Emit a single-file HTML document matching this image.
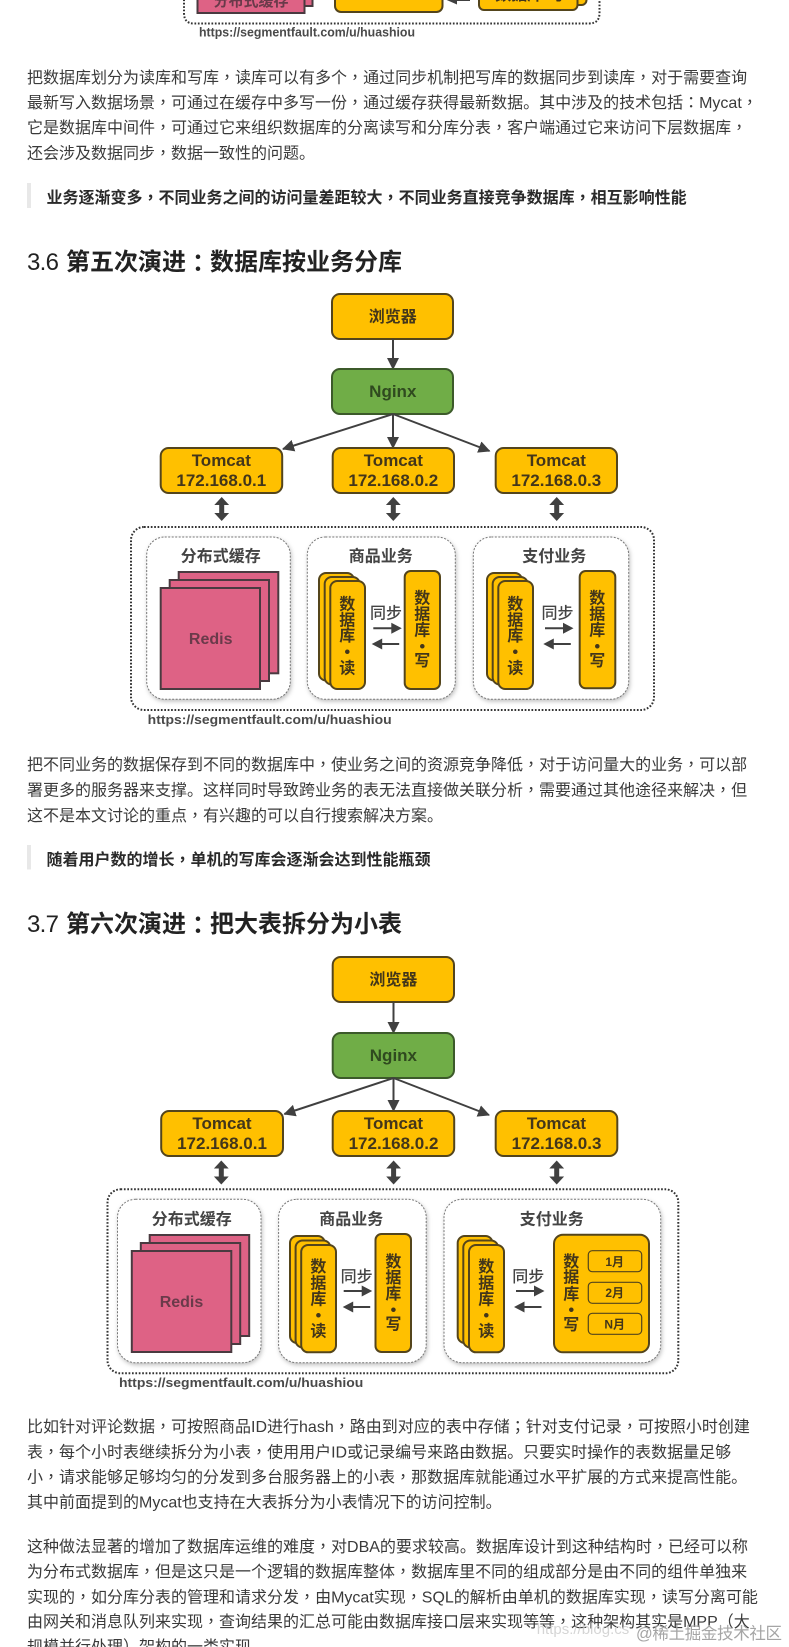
<!DOCTYPE html>
<html><head><meta charset="utf-8">
<style>
html,body{margin:0;padding:0;background:#fff;width:789px;height:1647px;overflow:hidden}
svg{display:block;font-family:"Liberation Sans","Noto Sans CJK SC",sans-serif}
.t{font-size:16px;fill:#3a3a3a}
.q{font-size:16px;font-weight:700;fill:#2a2a2a}
.h{font-size:24px;font-weight:700;fill:#222}
.h .n{font-weight:400;letter-spacing:-.7px}
.p{font-family:"Liberation Sans","Noto Sans CJK TC",sans-serif}
.b{font-weight:700;fill:#43361a;text-anchor:middle;font-size:16px}
.b17{font-weight:700;fill:#43361a;text-anchor:middle;font-size:17px}
.g{font-weight:700;fill:#2f4a1f;text-anchor:middle;font-size:17px}
.ti{font-weight:700;fill:#444;text-anchor:middle;font-size:16px}
.s{fill:#444;text-anchor:middle;font-size:16px;font-weight:500}
.r{font-weight:700;fill:#6a3a4a;text-anchor:middle;font-size:16px}
.u{font-weight:700;fill:#4a4a4a;font-size:13px}
.y{fill:#FFC000;stroke:#54451c;stroke-width:2}
.pk{fill:#DE6285;stroke:#4a3a40;stroke-width:2}
.l{stroke:#404040;stroke-width:2;fill:none;marker-end:url(#a)}
.o{fill:none;stroke:#333;stroke-width:2;stroke-dasharray:1.7 1.7}
.i{fill:#fff;stroke:#777;stroke-width:1;stroke-dasharray:2 1.5;filter:drop-shadow(1px 2px 2px rgba(0,0,0,.25))}
</style></head><body>
<svg width="789" height="1647" viewBox="0 0 789 1647" xmlns="http://www.w3.org/2000/svg">
<defs>
<marker id="a" markerUnits="userSpaceOnUse" markerWidth="13" markerHeight="12" refX="11" refY="6" orient="auto"><path d="M0 0L12 6L0 12z" fill="#404040"/></marker>
<polygon id="da" points="0,0 7.4,8 2.5,8 2.5,16 7.4,16 0,24 -7.4,16 -2.5,16 -2.5,8 -7.4,8" fill="#404040"/>
<polygon id="ar" points="0,-1 18,-1 18,-5.500 28.500,0 18,5.500 18,1 0,1" fill="#404040"/>
<polygon id="al" points="27.500,-1 10.500,-1 10.500,-5.500 0,0 10.500,5.500 10.500,1 27.500,1" fill="#404040"/>
</defs>

<!-- top fragment -->
<path class="o" d="M184 -4V13Q184 23.500 194 23.500H589Q599.500 23.500 599.500 13V-4"/>
<rect class="pk" x="205" y="-20" width="107.500" height="26"/>
<rect class="pk" x="197.500" y="-20" width="107" height="33"/>
<text class="r" x="251" y="6" style="font-size:15px">分布式缓存</text>
<rect class="y" x="335" y="-20" width="107.500" height="32" rx="6"/>
<polygon points="446.700,0 457,4.500 457,1 470,1 470,-1 446.700,-1" fill="#404040"/>
<rect class="y" x="488" y="-20" width="98.500" height="25" rx="5"/>
<rect class="y" x="479" y="-20" width="98.500" height="30" rx="5"/>
<text class="b" x="530" y="0">数据库•写</text>
<text class="u" x="199" y="36.500" textLength="216" lengthAdjust="spacingAndGlyphs">https://segmentfault.com/u/huashiou</text>

<!-- para 1 -->
<text class="t" x="27" y="83">把数据库划分为读库和写库<tspan class="p">，</tspan>读库可以有多个<tspan class="p">，</tspan>通过同步机制把写库的数据同步到读库<tspan class="p">，</tspan>对于需要查询</text>
<text class="t" x="27" y="108">最新写入数据场景<tspan class="p">，</tspan>可通过在缓存中多写一份<tspan class="p">，</tspan>通过缓存获得最新数据。其中涉及的技术包括<tspan class="p">：</tspan>Mycat<tspan class="p">，</tspan></text>
<text class="t" x="27" y="133">它是数据库中间件<tspan class="p">，</tspan>可通过它来组织数据库的分离读写和分库分表<tspan class="p">，</tspan>客户端通过它来访问下层数据库<tspan class="p">，</tspan></text>
<text class="t" x="27" y="158.500">还会涉及数据同步<tspan class="p">，</tspan>数据一致性的问题。</text>
<rect x="27" y="183" width="4" height="25" fill="#e8e8e8"/>
<text class="q" x="46.500" y="203">业务逐渐变多<tspan class="p">，</tspan>不同业务之间的访问量差距较大<tspan class="p">，</tspan>不同业务直接竞争数据库<tspan class="p">，</tspan>相互影响性能</text>
<text class="h" x="27" y="270"><tspan class="n">3.6</tspan><tspan x="66">第五次演进</tspan><tspan class="p" dy="1.500">：</tspan><tspan dy="-1.500">数据库按业务分库</tspan></text>

<!-- diagram 1 -->
<rect class="y" x="332" y="294" width="121" height="45" rx="8"/>
<text class="b" x="392.800" y="322">浏览器</text>
<path class="l" d="M393 339V369"/>
<rect x="332" y="369" width="121" height="45" rx="8" fill="#70AD47" stroke="#3c5a2a" stroke-width="2"/>
<text class="g" x="392.800" y="397">Nginx</text>
<path class="l" d="M393 414L283 449"/>
<path class="l" d="M393 414V448"/>
<path class="l" d="M393 414L489.500 451"/>
<rect class="y" x="160.700" y="448" width="121.500" height="45" rx="8"/>
<text class="b17" x="221.300" y="466">Tomcat</text><text class="b17" x="221.300" y="486">172.168.0.1</text>
<rect class="y" x="332.700" y="448" width="121.300" height="45" rx="8"/>
<text class="b17" x="393.300" y="466">Tomcat</text><text class="b17" x="393.300" y="486">172.168.0.2</text>
<rect class="y" x="495.700" y="448" width="121.300" height="45" rx="8"/>
<text class="b17" x="556.300" y="466">Tomcat</text><text class="b17" x="556.300" y="486">172.168.0.3</text>
<use href="#da" x="221.700" y="497"/><use href="#da" x="393.300" y="497"/><use href="#da" x="556.700" y="497"/>
<rect class="o" x="131" y="527" width="523" height="183" rx="13"/>
<rect class="i" x="146.700" y="537" width="143.600" height="162.300" rx="18"/>
<rect class="i" x="307.300" y="537" width="148" height="162.300" rx="18"/>
<rect class="i" x="473.300" y="537" width="155.400" height="162.300" rx="18"/>
<text class="ti" x="220.800" y="561.500">分布式缓存</text>
<text class="ti" x="380.700" y="561.500">商品业务</text>
<text class="ti" x="554.300" y="561.500">支付业务</text>
<rect class="pk" x="178.700" y="572" width="99.600" height="101.300"/>
<rect class="pk" x="169.700" y="580" width="99.300" height="101"/>
<rect class="pk" x="160.700" y="588" width="99.300" height="101"/>
<text class="r" x="210.700" y="644">Redis</text>
<!-- read 1 -->
<rect class="y" x="319" y="573" width="35" height="107.500" rx="7"/>
<rect class="y" x="324.700" y="577" width="35" height="107.500" rx="7"/>
<rect class="y" x="330.300" y="581" width="34.700" height="108" rx="7"/>
<text class="b" x="347.300" y="609.300">数</text><text class="b" x="347.300" y="625.300">据</text><text class="b" x="347.300" y="641">库</text><text class="b" x="347.300" y="657">•</text><text class="b" x="347.300" y="673.300">读</text>
<rect class="y" x="404.700" y="571" width="35.300" height="118" rx="6"/>
<text class="b" x="422.300" y="603.300">数</text><text class="b" x="422.300" y="619.300">据</text><text class="b" x="422.300" y="635.300">库</text><text class="b" x="422.300" y="651.500">•</text><text class="b" x="422.300" y="666">写</text>
<text class="s" x="386" y="618.300">同步</text>
<use href="#ar" x="373.300" y="628.300"/><use href="#al" x="371.700" y="644"/>
<!-- read 2 -->
<rect class="y" x="487" y="573" width="35" height="107.500" rx="7"/>
<rect class="y" x="492.700" y="577" width="35" height="107.500" rx="7"/>
<rect class="y" x="498.300" y="581" width="34.700" height="108" rx="7"/>
<text class="b" x="515.300" y="609.300">数</text><text class="b" x="515.300" y="625.300">据</text><text class="b" x="515.300" y="641">库</text><text class="b" x="515.300" y="657">•</text><text class="b" x="515.300" y="673.300">读</text>
<rect class="y" x="579.700" y="571" width="35.600" height="117.300" rx="6"/>
<text class="b" x="597.300" y="603.300">数</text><text class="b" x="597.300" y="619.300">据</text><text class="b" x="597.300" y="635.300">库</text><text class="b" x="597.300" y="651.500">•</text><text class="b" x="597.300" y="666">写</text>
<text class="s" x="557.500" y="618.300">同步</text>
<use href="#ar" x="545" y="628.300"/><use href="#al" x="543.300" y="644"/>
<text class="u" x="147.700" y="724" textLength="244" lengthAdjust="spacingAndGlyphs">https://segmentfault.com/u/huashiou</text>

<!-- para 2 -->
<text class="t" x="27" y="770">把不同业务的数据保存到不同的数据库中<tspan class="p">，</tspan>使业务之间的资源竞争降低<tspan class="p">，</tspan>对于访问量大的业务<tspan class="p">，</tspan>可以部</text>
<text class="t" x="27" y="795.500">署更多的服务器来支撑。这样同时导致跨业务的表无法直接做关联分析<tspan class="p">，</tspan>需要通过其他途径来解决<tspan class="p">，</tspan>但</text>
<text class="t" x="27" y="821">这不是本文讨论的重点<tspan class="p">，</tspan>有兴趣的可以自行搜索解决方案。</text>
<rect x="27" y="845" width="4" height="24.500" fill="#e8e8e8"/>
<text class="q" x="46.500" y="865">随着用户数的增长<tspan class="p">，</tspan>单机的写库会逐渐会达到性能瓶颈</text>
<text class="h" x="27" y="932"><tspan class="n">3.7</tspan><tspan x="66">第六次演进</tspan><tspan class="p" dy="1.500">：</tspan><tspan dy="-1.500">把大表拆分为小表</tspan></text>

<!-- diagram 2 -->
<rect class="y" x="332.700" y="957" width="121.300" height="45" rx="8"/>
<text class="b" x="393.400" y="985">浏览器</text>
<path class="l" d="M393.500 1002V1033"/>
<rect x="332.700" y="1033" width="121.300" height="45" rx="8" fill="#70AD47" stroke="#3c5a2a" stroke-width="2"/>
<text class="g" x="393.400" y="1061">Nginx</text>
<path class="l" d="M393.500 1078L284.400 1114"/>
<path class="l" d="M393.500 1078V1111"/>
<path class="l" d="M393.500 1078L489 1115"/>
<rect class="y" x="161.200" y="1111" width="121.800" height="45" rx="8"/>
<text class="b17" x="222" y="1129">Tomcat</text><text class="b17" x="222" y="1149">172.168.0.1</text>
<rect class="y" x="332.700" y="1111" width="121.500" height="45" rx="8"/>
<text class="b17" x="393.500" y="1129">Tomcat</text><text class="b17" x="393.500" y="1149">172.168.0.2</text>
<rect class="y" x="495.700" y="1111" width="121.600" height="45" rx="8"/>
<text class="b17" x="556.500" y="1129">Tomcat</text><text class="b17" x="556.500" y="1149">172.168.0.3</text>
<use href="#da" x="221.300" y="1160.500"/><use href="#da" x="393.600" y="1160.500"/><use href="#da" x="556.700" y="1160.500"/>
<rect class="o" x="107.500" y="1189.300" width="570.800" height="184" rx="13"/>
<rect class="i" x="117.500" y="1199.300" width="143.500" height="163.400" rx="18"/>
<rect class="i" x="278.600" y="1199.300" width="147.600" height="163.400" rx="18"/>
<rect class="i" x="444" y="1199.300" width="216.700" height="163.400" rx="18"/>
<text class="ti" x="191.800" y="1224.300">分布式缓存</text>
<text class="ti" x="351.300" y="1224.300">商品业务</text>
<text class="ti" x="551.700" y="1224.300">支付业务</text>
<rect class="pk" x="149.700" y="1235" width="99.500" height="101"/>
<rect class="pk" x="140.800" y="1243" width="99.400" height="101"/>
<rect class="pk" x="131.800" y="1251" width="99.500" height="101"/>
<text class="r" x="181.500" y="1307">Redis</text>
<rect class="y" x="290" y="1236" width="34.800" height="107" rx="7"/>
<rect class="y" x="295.600" y="1240.500" width="34.800" height="107" rx="7"/>
<rect class="y" x="301.200" y="1245" width="34.800" height="107.300" rx="7"/>
<text class="b" x="318.400" y="1272">数</text><text class="b" x="318.400" y="1288.700">据</text><text class="b" x="318.400" y="1304.300">库</text><text class="b" x="318.400" y="1320.500">•</text><text class="b" x="318.400" y="1336.700">读</text>
<rect class="y" x="375.500" y="1234" width="35.500" height="118" rx="6"/>
<text class="b" x="393.400" y="1267">数</text><text class="b" x="393.400" y="1283">据</text><text class="b" x="393.400" y="1299">库</text><text class="b" x="393.400" y="1315">•</text><text class="b" x="393.400" y="1329.500">写</text>
<text class="s" x="356.600" y="1282">同步</text>
<use href="#ar" x="343.700" y="1291"/><use href="#al" x="342.700" y="1307"/>
<rect class="y" x="457.700" y="1236" width="34.800" height="107" rx="7"/>
<rect class="y" x="463.300" y="1240.500" width="34.800" height="107" rx="7"/>
<rect class="y" x="469" y="1245" width="35" height="107.300" rx="7"/>
<text class="b" x="486.300" y="1272">数</text><text class="b" x="486.300" y="1288.700">据</text><text class="b" x="486.300" y="1304.300">库</text><text class="b" x="486.300" y="1320.500">•</text><text class="b" x="486.300" y="1336.700">读</text>
<rect class="y" x="554" y="1234.700" width="95" height="117.600" rx="9"/>
<text class="b" x="571.300" y="1267">数</text><text class="b" x="571.300" y="1282.700">据</text><text class="b" x="571.300" y="1299.300">库</text><text class="b" x="571.300" y="1315">•</text><text class="b" x="571.300" y="1330">写</text>
<rect x="588.300" y="1250.700" width="53.400" height="21" rx="4" fill="none" stroke="#54451c" stroke-width="1.200"/>
<rect x="588.300" y="1282.300" width="53.400" height="21" rx="4" fill="none" stroke="#54451c" stroke-width="1.200"/>
<rect x="588.300" y="1313.300" width="53.400" height="21" rx="4" fill="none" stroke="#54451c" stroke-width="1.200"/>
<text class="b" style="font-size:12px" x="614.700" y="1266">1月</text>
<text class="b" style="font-size:12px" x="614.700" y="1297">2月</text>
<text class="b" style="font-size:12px" x="614.700" y="1328.500">N月</text>
<text class="s" x="528.300" y="1282">同步</text>
<use href="#ar" x="516" y="1291"/><use href="#al" x="514" y="1307"/>
<text class="u" x="119" y="1387" textLength="244.300" lengthAdjust="spacingAndGlyphs">https://segmentfault.com/u/huashiou</text>

<!-- para 3 -->
<text class="t" x="27" y="1432">比如针对评论数据<tspan class="p">，</tspan>可按照商品ID进行hash<tspan class="p">，</tspan>路由到对应的表中存储<tspan class="p">；</tspan>针对支付记录<tspan class="p">，</tspan>可按照小时创建</text>
<text class="t" x="27" y="1457.500">表<tspan class="p">，</tspan>每个小时表继续拆分为小表<tspan class="p">，</tspan>使用用户ID或记录编号来路由数据。只要实时操作的表数据量足够</text>
<text class="t" x="27" y="1482.500">小<tspan class="p">，</tspan>请求能够足够均匀的分发到多台服务器上的小表<tspan class="p">，</tspan>那数据库就能通过水平扩展的方式来提高性能。</text>
<text class="t" x="27" y="1507.500">其中前面提到的Mycat也支持在大表拆分为小表情况下的访问控制。</text>
<text class="t" x="27" y="1552">这种做法显著的增加了数据库运维的难度<tspan class="p">，</tspan>对DBA的要求较高。数据库设计到这种结构时<tspan class="p">，</tspan>已经可以称</text>
<text class="t" x="27" y="1577">为分布式数据库<tspan class="p">，</tspan>但是这只是一个逻辑的数据库整体<tspan class="p">，</tspan>数据库里不同的组成部分是由不同的组件单独来</text>
<text class="t" x="27" y="1602.500">实现的<tspan class="p">，</tspan>如分库分表的管理和请求分发<tspan class="p">，</tspan>由Mycat实现<tspan class="p">，</tspan>SQL的解析由单机的数据库实现<tspan class="p">，</tspan>读写分离可能</text>
<text class="t" x="27" y="1627">由网关和消息队列来实现<tspan class="p">，</tspan>查询结果的汇总可能由数据库接口层来实现等等<tspan class="p">，</tspan>这种架构其实是MPP<tspan class="p">（</tspan>大</text>
<text class="t" x="27" y="1652">规模并行处理<tspan class="p">）</tspan>架构的一类实现。</text>

<!-- watermark -->
<text x="536.700" y="1634" style="font-size:15px;fill:#c8c8c8;opacity:.75">https://blog.cs</text>
<text x="636" y="1639" style="font-size:16.500px;fill:#a5a5a5" textLength="146">@稀土掘金技术社区</text>
</svg>
</body></html>
